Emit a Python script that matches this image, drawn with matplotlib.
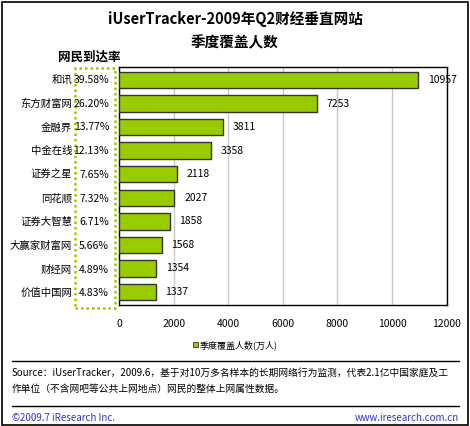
import matplotlib.pyplot as plt
from matplotlib.patches import Rectangle
from matplotlib.lines import Line2D

plt.rcParams['font.family'] = ['Noto Sans CJK SC', 'DejaVu Sans']

# datos
sites = ['和讯', '东方财富网', '金融界', '中金在线', '证券之星', '同花顺',
         '证券大智慧', '大赢家财富网', '财经网', '价值中国网']
reach = ['39.58%', '26.20%', '13.77%', '12.13%', '7.65%', '7.32%',
         '6.71%', '5.66%', '4.89%', '4.83%']
users = [10957, 7253, 3811, 3358, 2118, 2027, 1858, 1568, 1354, 1337]
xticks = [0, 2000, 4000, 6000, 8000, 10000, 12000]

W, H = 470, 426
green = '#99cc00'

def fx(px):
    return px / W

def fy(py):
    return 1 - py / H

fig = plt.figure(figsize=(W / 100, H / 100), dpi=100)

# marco exterior
fig.patches.append(Rectangle((fx(2), fy(425)), fx(466), 423 / H, transform=fig.transFigure,
                             fill=False, edgecolor='black', linewidth=1.2))

ax = fig.add_axes([fx(119), fy(305), fx(446.7 - 119), (305 - 67) / H])
pos = list(range(len(sites)))
ax.barh(pos, users, height=0.7, color=green, edgecolor='#333333', linewidth=1, zorder=3)
ax.set_xlim(0, 12000)
ax.set_ylim(len(sites) - 0.45, -0.55)
ax.set_xticks(xticks)
ax.set_xticklabels([str(t) for t in xticks], fontsize=7.5)
ax.set_yticks([])
ax.tick_params(axis='x', length=0, pad=10)
ax.grid(axis='x', color='#c8c8c8', linewidth=1, zorder=0)
for s in ax.spines.values():
    s.set_color('black')
    s.set_linewidth(1)

for i, v in enumerate(users):
    ax.annotate(str(v), (v, i), xytext=(7, 0), textcoords='offset points',
                va='center', ha='left', fontsize=7.5)

# etiquetas de categoría y tasa
for i, (name, r) in enumerate(zip(sites, reach)):
    yy = fy(80 + i * 23.7)
    fig.text(fx(72), yy, name, ha='right', va='center', fontsize=7.5)
    fig.text(fx(109), yy, r, ha='right', va='center', fontsize=7.5)

fig.patches.append(Rectangle((fx(75), fy(308)), fx(40), 240 / H, transform=fig.transFigure,
                             fill=False, edgecolor=green, linestyle=(0, (1, 1.2)), linewidth=1.8))

# títulos
fig.text(0.5, fy(19), 'iUserTracker-2009年Q2财经垂直网站', ha='center', va='center',
         fontsize=10.5, fontweight='bold')
fig.text(0.5, fy(42), '季度覆盖人数', ha='center', va='center', fontsize=10.5, fontweight='bold')
fig.text(fx(58), fy(57), '网民到达率', ha='left', va='center', fontsize=9, fontweight='bold')

# leyenda
fig.patches.append(Rectangle((fx(193), fy(347)), fx(5), 5 / H, transform=fig.transFigure,
                             facecolor=green, edgecolor='#333333', linewidth=0.6))
fig.text(fx(200), fy(345), '季度覆盖人数(万人)', ha='left', va='center', fontsize=6.5)

# líneas y pie
for yl in (361, 406):
    fig.lines.append(Line2D([fx(12), fx(459)], [fy(yl), fy(yl)], transform=fig.transFigure,
                            color='black', linewidth=1))
fig.text(fx(12), fy(373), 'Source：iUserTracker，2009.6，基于对10万多名样本的长期网络行为监测，代表2.1亿中国家庭及工',
         ha='left', va='center', fontsize=7)
fig.text(fx(12), fy(389), '作单位（不含网吧等公共上网地点）网民的整体上网属性数据。',
         ha='left', va='center', fontsize=7)
fig.text(fx(12), fy(418), '©2009.7 iResearch Inc.', ha='left', va='center', fontsize=7, color='#3333cc')
fig.text(fx(459), fy(418), 'www.iresearch.com.cn', ha='right', va='center', fontsize=7, color='#3333cc')

fig.savefig('out.png', dpi=100)
